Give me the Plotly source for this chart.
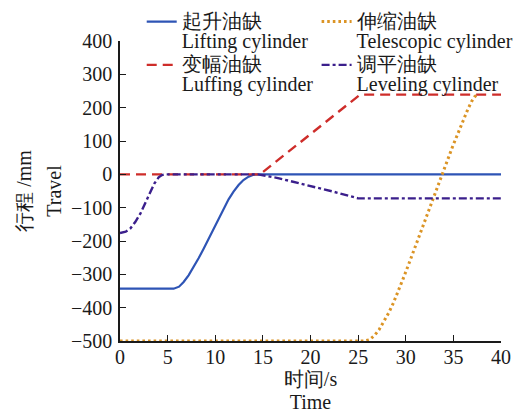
import plotly.graph_objects as go

# ---- data ----
lift_x = [0, 5.63, 6.2, 6.68, 7.2, 7.73, 8.25, 8.78, 9.3, 9.82, 10.35, 10.87, 11.4, 11.92, 12.45, 12.96, 13.5, 14.01, 14.5, 15, 40]
lift_y = [-343, -343, -337, -323, -303, -278, -252, -223, -193, -163, -132, -102, -75, -52, -32, -17, -7, -1, 0, 0, 0]

tele_x = [0, 25.7, 26.2, 26.7, 27.2, 27.7, 28.2, 28.7, 29.2, 29.7, 30.2, 30.9, 31.6, 32.3, 32.8, 33.84, 34.4, 34.95, 35.5, 36.0, 36.5, 36.9, 37.2, 37.5]
tele_y = [-500, -500, -496, -484, -466, -443, -416, -386, -352, -315, -278, -224, -169, -114, -75, 0, 44, 86, 124, 160, 194, 218, 232, 239]

luff_x = [0, 14.7, 25.2, 40]
luff_y = [0, 0, 239, 239]

lev_x = [0, 0.6, 1.1, 1.6, 2.15, 2.65, 3.19, 3.6, 4.06, 4.4, 4.7, 14.5, 16.7, 18.9, 20.7, 22.4, 25.0, 40]
lev_y = [-176, -172, -162, -143, -117, -86, -52, -28, -9, -2, 0, 0, -12, -27, -39, -52, -72, -72]

x_ticks = [0, 5, 10, 15, 20, 25, 30, 35, 40]
y_ticks = [-500, -400, -300, -200, -100, 0, 100, 200, 300, 400]

names = {
    "lift": "起升油缺<br>Lifting cylinder",
    "tele": "伸缩油缺<br>Telescopic cylinder",
    "luff": "变幅油缺<br>Luffing cylinder",
    "lev": "调平油缺<br>Leveling cylinder",
}
x_title = "时间/s<br>Time"
y_title = "行程 /mm<br>Travel"

FONT = "Liberation Serif"
INK = "#1a1a1a"


def big(t, px=20):
    return "<br>".join('<span style="font-size:%spx">%s</span>' % (px, p) for p in t.split("<br>"))


fig = go.Figure()
fig.add_trace(go.Scatter(x=lift_x, y=lift_y, mode="lines", name=big(names["lift"]),
                         line=dict(color="#2E54B5", width=2.2), legend="legend", cliponaxis=False))
fig.add_trace(go.Scatter(x=tele_x, y=tele_y, mode="lines", name=big(names["tele"]),
                         line=dict(color="#DB9425", width=3, dash="2.6px,3px"), legend="legend2", cliponaxis=False))
fig.add_trace(go.Scatter(x=luff_x, y=luff_y, mode="lines", name=big(names["luff"]),
                         line=dict(color="#CE2D2A", width=2.4, dash="10px,6px"), legend="legend", cliponaxis=False))
fig.add_trace(go.Scatter(x=lev_x, y=lev_y, mode="lines", name=big(names["lev"]),
                         line=dict(color="#3B1F8C", width=2.4, dash="8px,3px,3px,3px"), legend="legend2", cliponaxis=False))

leg_common = dict(font=dict(family=FONT, size=15.5, color=INK), bgcolor="rgba(0,0,0,0)",
                  yanchor="top", xanchor="left", valign="top", tracegroupgap=0, itemwidth=30)
fig.update_layout(
    width=528, height=413,
    margin=dict(l=120, r=27, t=41, b=72, autoexpand=False),
    paper_bgcolor="white", plot_bgcolor="white",
    font=dict(family=FONT, size=20, color=INK),
    showlegend=True,
    legend=dict(x=0.057, y=1.12, **leg_common),
    legend2=dict(x=0.516, y=1.12, **leg_common),
    xaxis=dict(range=[0, 40], tickvals=x_ticks, ticks="inside", ticklen=6, tickwidth=1.2,
               tickcolor=INK, showline=True, linecolor=INK, linewidth=1.5, automargin=False,
               showgrid=False, zeroline=False, tickfont=dict(family=FONT, size=20, color=INK),
               ticklabelstandoff=-3,
               title=dict(text=big(x_title), font=dict(family=FONT, size=17.5, color=INK), standoff=7)),
    yaxis=dict(range=[-500, 400], tickvals=y_ticks, ticks="inside", ticklen=6, tickwidth=1.2,
               tickcolor=INK, showline=True, linecolor=INK, linewidth=1.5, automargin=False,
               showgrid=False, zeroline=False, tickfont=dict(family=FONT, size=20, color=INK),
               ticklabelstandoff=2,
               title=dict(text=big(y_title), font=dict(family=FONT, size=23, color=INK), standoff=3)),
)

fig.write_html("out.html", post_script="document.body.style.margin='0';",
               config={"displayModeBar": False})
